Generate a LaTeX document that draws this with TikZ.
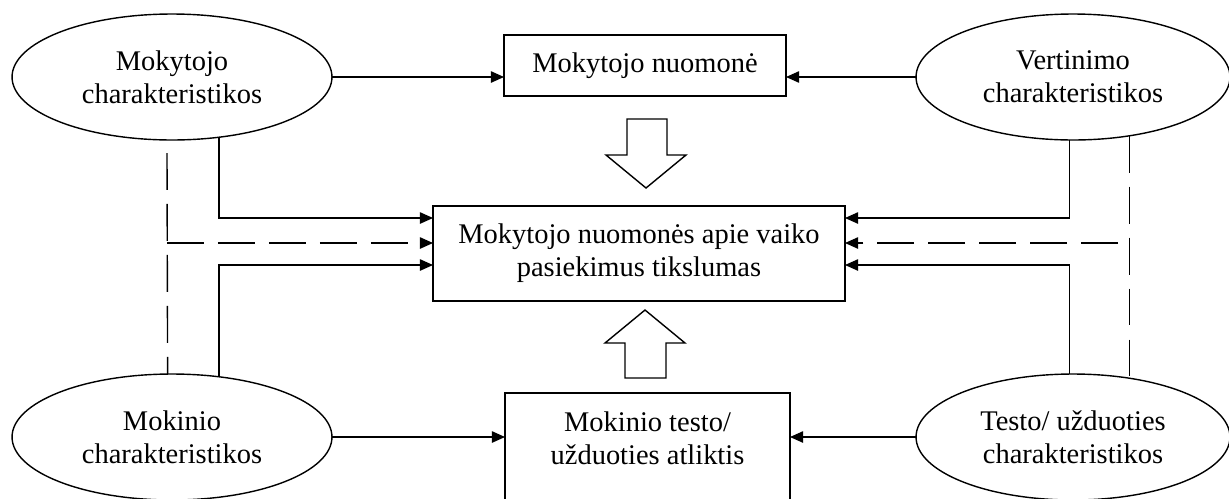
\documentclass[tikz,border=0pt]{standalone}
\usepackage{fontspec}
\setmainfont{Liberation Serif}
\usetikzlibrary{shapes.geometric,arrows.meta,calc}
\begin{document}
\begin{tikzpicture}[x=0.02cm,y=-0.02cm,
  every node/.style={font=\fontsize{16.2}{18.8}\selectfont, align=center, inner sep=0pt, outer sep=0pt},
  oval/.style={draw, ellipse, line width=0.8pt, minimum width=6.4cm, minimum height=2.52cm},
  box/.style={draw, rectangle, line width=0.8pt},
  conn/.style={line width=0.8pt, -{Triangle[length=7.5pt,width=6.5pt]}},
  dashline/.style={line width=0.8pt, dash pattern=on 21pt off 8pt},
  hollow/.style={draw, line width=0.8pt, fill=white, line join=miter}]
\useasboundingbox (0,0) rectangle (1229,498);
% nodes
\node[oval] (tl) at (172,77) {Mokytojo\\charakteristikos};
\node[oval, minimum width=6.28cm] (tr) at (1073,77) {Vertinimo\\charakteristikos};
\node[oval] (bl) at (172,437) {Mokinio\\charakteristikos};
\node[oval, minimum width=6.28cm] (br) at (1073,437) {Testo/ užduoties\\charakteristikos};
\node[box, minimum width=5.64cm, minimum height=1.22cm] (top) at (645,65.5) {Mokytojo nuomonė};
\node[box, minimum width=8.24cm, minimum height=1.9cm] (mid) at (639,253.5) {Mokytojo nuomonės apie vaiko\\pasiekimus tikslumas};
\node[minimum width=5.7cm, minimum height=1.8cm] (bot) at (647.5,438) {Mokinio testo/\\užduoties atliktis};
\draw[line width=0.8pt] ($(bot.south west)+(0,25)$) -- (bot.north west) -- (bot.north east) -- ($(bot.south east)+(0,25)$);
% horizontal connectors to top/bottom boxes
\draw[conn] (tl.east) -- (tl.east -| top.west);
\draw[conn] (tr.west) -- (tr.west -| top.east);
\draw[conn] (bl.east) -- (bl.east -| bot.west);
\draw[conn] (br.west) -- (br.west -| bot.east);
% rows into the middle box
\coordinate (r1) at (0,218);
\coordinate (r2) at (0,243);
\coordinate (r3) at (0,265);
\draw[conn] (tl.-52.7) |- (r1 -| mid.west);
\draw[conn] (bl.52.7) |- (r3 -| mid.west);
\draw[conn] (tr.-93.6) |- (r1 -| mid.east);
\draw[conn] (br.93.6) |- (r3 -| mid.east);
% dashed connectors
\coordinate (dl) at (167,153);
\draw[dashline] (dl) -- (bl.94.5);
\draw[conn, dashline] (dl |- r2) -- (r2 -| mid.west);
\draw[dashline] (tr.-46.4) -- (br.46.4);
\coordinate (dr) at (1118,243);
\draw[conn, dashline] (dr) -- (r2 -| mid.east);
% hollow block arrows
\draw[hollow] (627,119) -- (667,119) -- (667,155) -- (686,155) -- (646,188) -- (606,155) -- (627,155) -- cycle;
\draw[hollow] (625,378) -- (666,378) -- (666,343) -- (685,343) -- (645,310) -- (605,343) -- (625,343) -- cycle;
\end{tikzpicture}
\end{document}
